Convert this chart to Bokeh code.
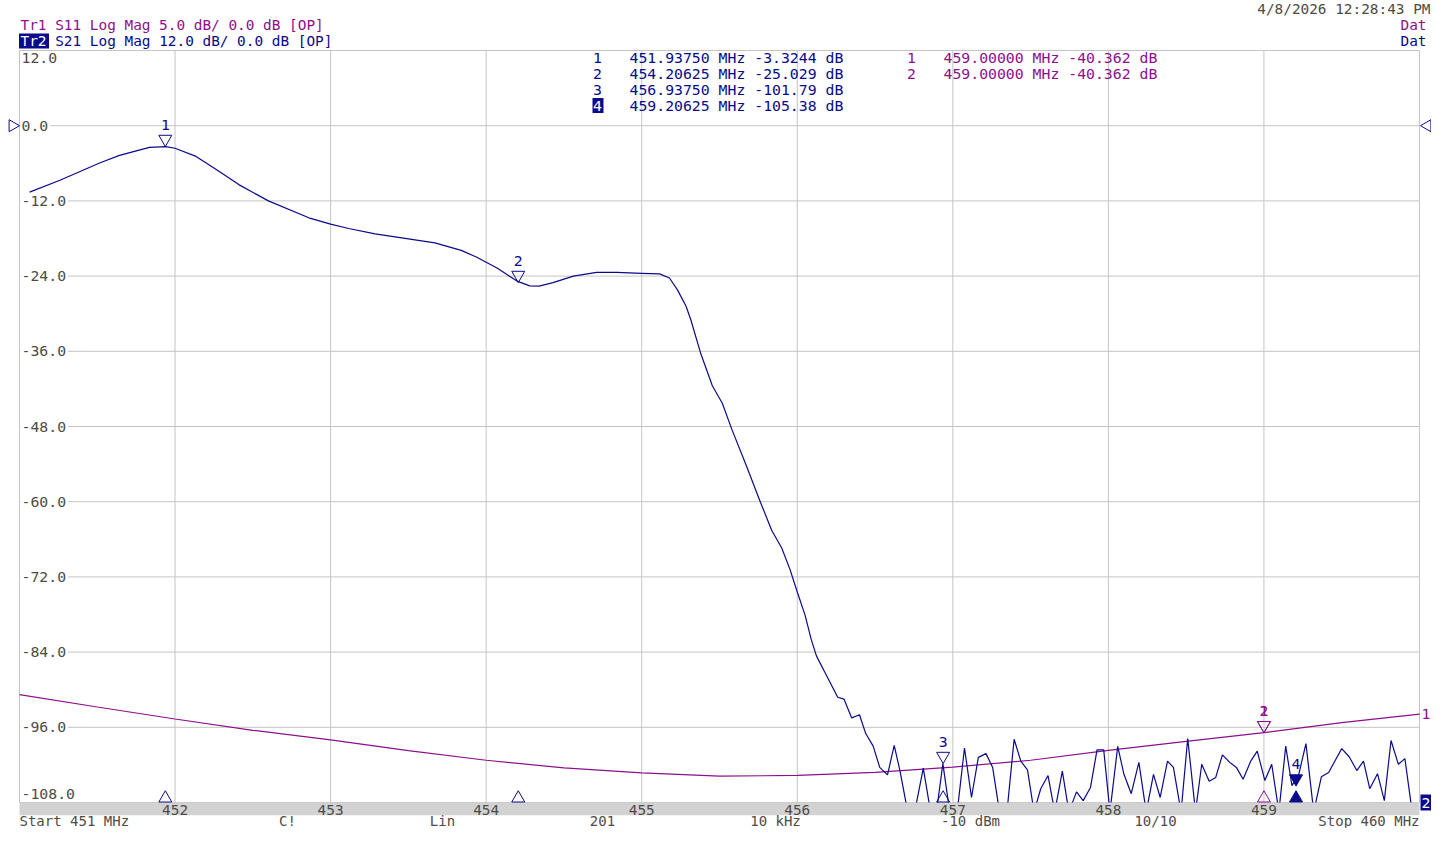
import numpy as np
from bokeh.plotting import figure
from bokeh.models import Range1d
from bokeh.core.properties import value
from bokeh.embed import file_html
from bokeh.resources import INLINE

# ---------------- data ----------------
start_mhz, stop_mhz = 451.0, 460.0

s21_freq = [451.065, 451.26, 451.515, 451.643, 451.835, 451.94, 452.0, 452.135, 452.26, 452.41,
            452.6, 452.86, 453.0, 453.116, 453.286, 453.5, 453.67, 453.84, 453.94, 454.0,
            454.07, 454.136, 454.198, 454.28, 454.34, 454.43, 454.56, 454.71, 454.84, 455.0,
            455.115, 455.178, 455.23, 455.285, 455.316, 455.38, 455.454, 455.518, 455.58, 455.667,
            455.762, 455.836, 455.9, 455.953, 456.0, 456.05, 456.09, 456.123, 456.187, 456.26,
            456.30, 456.35, 456.40, 456.44, 456.488, 456.53, 456.58, 456.623, 456.66, 456.71,
            456.755, 456.81, 456.857, 456.895, 456.936, 456.98, 457.028, 457.075, 457.12, 457.164,
            457.213, 457.256, 457.3, 457.348, 457.394, 457.437, 457.48, 457.522, 457.565, 457.612,
            457.655, 457.704, 457.746, 457.795, 457.838, 457.885, 457.927, 457.97, 458.01, 458.06,
            458.10, 458.147, 458.196, 458.243, 458.29, 458.333, 458.38, 458.418, 458.467, 458.51,
            458.56, 458.6, 458.648, 458.69, 458.733, 458.78, 458.823, 458.866, 458.915, 458.957,
            459.006, 459.05, 459.096, 459.14, 459.18, 459.224, 459.27, 459.32, 459.369, 459.416,
            459.458, 459.5, 459.548, 459.597, 459.64, 459.68, 459.73, 459.774, 459.817, 459.864,
            459.906, 459.953]
s21_db = [-10.6, -8.7, -5.95, -4.74, -3.47, -3.35, -3.6, -4.9, -6.9, -9.4,
          -12.0, -14.7, -15.7, -16.4, -17.25, -18.05, -18.7, -19.9, -21.0, -21.8,
          -22.7, -23.8, -24.8, -25.55, -25.6, -25.05, -24.0, -23.42, -23.42, -23.55,
          -23.65, -24.3, -26.2, -28.8, -31.0, -36.4, -41.5, -44.3, -48.5, -53.9,
          -60.0, -64.6, -67.4, -70.8, -74.4, -78.1, -82.0, -84.6, -87.7, -91.2,
          -91.5, -94.5, -94.0, -97.0, -99.0, -102.4, -103.6, -98.9, -102.9, -109.5,
          -109.5, -102.5, -109.5, -109.5, -101.8, -109.5, -109.5, -99.3, -107.2, -100.8,
          -100.2, -102.4, -109.5, -109.5, -97.9, -101.4, -102.8, -109.5, -105.8, -103.7,
          -109.5, -103.0, -109.5, -106.3, -107.7, -105.6, -99.6, -99.6, -109.5, -99.05,
          -103.5, -106.6, -101.6, -109.5, -103.5, -107.2, -101.4, -102.4, -109.5, -97.8,
          -109.5, -101.9, -104.6, -104.0, -100.4, -101.6, -102.4, -104.3, -101.4, -99.8,
          -104.5, -101.9, -109.5, -99.0, -105.3, -103.5, -98.6, -109.5, -103.9, -103.2,
          -101.3, -99.4, -100.7, -102.9, -101.4, -105.8, -103.4, -107.7, -98.1, -101.9,
          -101.0, -109.5]

s11_freq = [451.0, 451.5, 452.0, 452.5, 453.0, 453.5, 454.0, 454.5, 455.0, 455.5,
            456.0, 456.5, 457.0, 457.5, 458.0, 458.5, 459.0, 459.5, 460.0]
s11_db = [-37.83, -38.65, -39.45, -40.2, -40.84, -41.55, -42.19, -42.7, -43.03, -43.25,
          -43.2, -43.0, -42.65, -42.19, -41.53, -40.94, -40.36, -39.69, -39.13]

s21_marker_id = ["1", "2", "3", "4"]
s21_marker_freq = [451.93750, 454.20625, 456.93750, 459.20625]
s21_marker_db = [-3.3244, -25.029, -101.79, -105.38]
s21_marker_txt = ["-3.3244", "-25.029", "-101.79", "-105.38"]
s11_marker_id = ["1", "2"]
s11_marker_freq = [459.00000, 459.00000]
s11_marker_db = [-40.362, -40.362]
s11_marker_txt = ["-40.362", "-40.362"]

x_ticks = [452, 453, 454, 455, 456, 457, 458, 459]
x_tick_labels = ["452", "453", "454", "455", "456", "457", "458", "459"]
y_ticks = [12.0, 0.0, -12.0, -24.0, -36.0, -48.0, -60.0, -72.0, -84.0, -96.0, -108.0]
y_tick_labels = ["12.0", "0.0", "-12.0", "-24.0", "-36.0", "-48.0", "-60.0", "-72.0",
                 "-84.0", "-96.0", "-108.0"]
s11_top, s11_bottom = 5.0, -45.0

header_tr1 = "Tr1 S11 Log Mag 5.0 dB/ 0.0 dB [OP]"
header_tr2_name = "Tr2"
header_tr2 = "S21 Log Mag 12.0 dB/ 0.0 dB [OP]"
date_text = "4/8/2026 12:28:43 PM"
bottom_labels = ["Start 451 MHz", "C!", "Lin", "201", "10 kHz", "-10 dBm", "10/10", "Stop 460 MHz"]

# ---------------- layout (picture pixels) ----------------
W, H = 1431, 828
FL, FR, FT, FB, BAND_B = 19, 1419, 50, 802, 815
Y_TOP, Y_BOT = y_ticks[0], y_ticks[-1]

ppx = (FR - FL) / (stop_mhz - start_mhz)
ppy = (FB - FT) / (Y_TOP - Y_BOT)
ppy11 = (FB - FT) / (s11_top - s11_bottom)

def X(px):
    return start_mhz + (px - FL) / ppx

def Y(py):
    return Y_TOP - (py - FT) / ppy

BLUE = "#0a0a8a"
PURPLE = "#8c0f8c"
GRID = "#c4c4c4"
TXT = "#4e4b47"
BAND = "#d2d2d2"
FONT = value("DejaVu Sans Mono")
FS = value("14.8px")
FS_H = value("14.4px")
FS_B = value("14px")
CW = 0.602 * 14.8

p = figure(width=W, height=H,
           x_range=Range1d(X(0), X(W)),
           y_range=Range1d(Y(H), Y(0)),
           x_axis_type=None, y_axis_type=None, title=None,
           toolbar_location=None, output_backend="svg",
           min_border=0, min_border_left=0, min_border_right=0,
           min_border_top=0, min_border_bottom=0,
           outline_line_color=None, background_fill_color="white",
           border_fill_color="white")
p.extra_y_ranges = {"s11": Range1d(s11_bottom - (H - FB) / ppy11,
                                   s11_top + FT / ppy11)}

# grid
vx = [start_mhz] + x_ticks + [stop_mhz]
p.segment(x0=vx, y0=[Y_BOT] * len(vx), x1=vx, y1=[Y_TOP] * len(vx),
          line_color=GRID, line_width=1)
p.segment(x0=[start_mhz] * len(y_ticks), y0=y_ticks, x1=[stop_mhz] * len(y_ticks), y1=y_ticks,
          line_color=GRID, line_width=1)

# tick label white backgrounds (middle labels sit on grid lines)
mid_labels = y_tick_labels[1:-1]
mid_w = [len(s) * CW + 3 for s in mid_labels]
p.rect(x=[X(21 + w / 2 - 1) for w in mid_w], y=y_ticks[1:-1], width=mid_w,
       height=[14] * len(mid_w), width_units="screen", height_units="screen",
       fill_color="white", line_color=None)

# traces
p.line(s11_freq, s11_db, y_range_name="s11", line_color=PURPLE, line_width=1.2)
p.line(s21_freq, s21_db, line_color=BLUE, line_width=1.2)

# bottom band (covers off-scale portion) and white area below
p.quad(left=[start_mhz], right=[stop_mhz], top=[Y_BOT], bottom=[Y(BAND_B)],
       fill_color=BAND, fill_alpha=1.0, line_color=None)
p.quad(left=[X(0)], right=[X(W)], top=[Y(BAND_B)], bottom=[Y(H)],
       fill_color="white", fill_alpha=1.0, line_color=None)

# y tick labels
yoff = [7] + [0] * (len(y_ticks) - 2) + [-9]
p.text(x=[X(21)] * len(y_ticks), y=y_ticks, text=y_tick_labels, y_offset=yoff,
       text_font=FONT, text_font_size=FS, text_color=TXT,
       text_align="left", text_baseline="middle")

# x tick labels in band
p.text(x=x_ticks, y=[Y((FB + BAND_B) / 2 + 0.5)] * len(x_ticks), text=x_tick_labels,
       text_font=FONT, text_font_size=FS_H, text_color=TXT,
       text_align="center", text_baseline="middle")

# bottom status row
bx = [X(19), X(287), X(442), X(602), X(775), X(970), X(1155), X(FR)]
balign = ["left", "center", "center", "center", "center", "center", "center", "right"]
p.text(x=bx, y=[Y(820)] * len(bx), text=bottom_labels, text_align=balign,
       text_font=FONT, text_font_size=FS_B, text_color=TXT, text_baseline="middle")

# markers on traces
SZ = 13
tip = SZ / 2 * np.sqrt(3) * 2 / 3
base = SZ / 2 * np.sqrt(3) / 3
p.scatter(x=s21_marker_freq[:3], y=[v + tip / ppy for v in s21_marker_db[:3]],
          marker="inverted_triangle", size=SZ, fill_color=None, line_color=BLUE, line_width=1)
p.scatter(x=s21_marker_freq[3:], y=[v + tip / ppy for v in s21_marker_db[3:]],
          marker="inverted_triangle", size=SZ, fill_color=BLUE, line_color=BLUE, line_width=1)
p.text(x=s21_marker_freq, y=s21_marker_db, text=s21_marker_id, y_offset=-17,
       text_font=FONT, text_font_size=FS, text_color=BLUE,
       text_align="center", text_baseline="bottom")
p.scatter(x=s11_marker_freq, y=[v + tip / ppy11 for v in s11_marker_db], y_range_name="s11",
          marker="inverted_triangle", size=SZ, fill_color=None, line_color=PURPLE, line_width=1)
p.text(x=s11_marker_freq, y=s11_marker_db, text=s11_marker_id, y_offset=-17, y_range_name="s11",
       text_font=FONT, text_font_size=FS, text_color=PURPLE,
       text_align="center", text_baseline="bottom")

# stimulus triangles at the bottom
p.scatter(x=s21_marker_freq[:3], y=[Y_BOT + (base + 0.5) / ppy] * 3, marker="triangle",
          size=SZ, fill_color=None, line_color=BLUE, line_width=1)
p.scatter(x=s21_marker_freq[3:], y=[Y_BOT + (base + 0.5) / ppy], marker="triangle",
          size=SZ, fill_color=BLUE, line_color=BLUE, line_width=1)
p.scatter(x=s11_marker_freq[:1], y=[Y_BOT + (base + 0.5) / ppy], marker="triangle",
          size=SZ, fill_color=None, line_color=PURPLE, line_width=1)

# reference level pointers
RS = 12
rtip = RS / 2 * np.sqrt(3) * 2 / 3
p.scatter(x=[X(FL) - rtip / ppx], y=[0.0], marker="triangle", angle=-np.pi / 2,
          size=RS, fill_color=None, line_color=BLUE, line_width=1)
p.scatter(x=[X(FR + 1) + rtip / ppx], y=[0.0], marker="triangle", angle=np.pi / 2,
          size=RS, fill_color=None, line_color=BLUE, line_width=1)

# trace end labels on the right
p.text(x=[X(FR + 6.5)], y=[s11_db[-1]], y_range_name="s11", text=["1"],
       text_font=FONT, text_font_size=FS, text_color=PURPLE,
       text_align="center", text_baseline="middle")
p.rect(x=[X(FR + 6.5)], y=[Y_BOT], width=[11], height=[16], width_units="screen",
       height_units="screen", fill_color=BLUE, line_color=None)
p.text(x=[X(FR + 6.5)], y=[Y_BOT], text=["2"], text_font=FONT, text_font_size=FS,
       text_color="white", text_align="center", text_baseline="middle")

# marker readouts
rows = [Y(57 + 16 * i) for i in range(len(s21_marker_id))]
p.rect(x=[X(597.5)], y=[rows[3]], width=[11], height=[15], width_units="screen",
       height_units="screen", fill_color=BLUE, line_color=None)
p.text(x=[X(597)] * 4, y=rows, text=s21_marker_id,
       text_color=[BLUE, BLUE, BLUE, "white"],
       text_font=FONT, text_font_size=FS, text_align="center", text_baseline="middle")
p.text(x=[X(629)] * 4, y=rows,
       text=["%.5f MHz %s dB" % (f, t) for f, t in zip(s21_marker_freq, s21_marker_txt)],
       text_font=FONT, text_font_size=FS, text_color=BLUE,
       text_align="left", text_baseline="middle")
p.text(x=[X(911)] * 2, y=rows[:2], text=s11_marker_id,
       text_font=FONT, text_font_size=FS, text_color=PURPLE,
       text_align="center", text_baseline="middle")
p.text(x=[X(943)] * 2, y=rows[:2],
       text=["%.5f MHz %s dB" % (f, t) for f, t in zip(s11_marker_freq, s11_marker_txt)],
       text_font=FONT, text_font_size=FS, text_color=PURPLE,
       text_align="left", text_baseline="middle")

# header
p.text(x=[X(20)], y=[Y(24)], text=[header_tr1], text_font=FONT, text_font_size=FS_H,
       text_color=PURPLE, text_align="left", text_baseline="middle")
p.rect(x=[X(33.5)], y=[Y(40.5)], width=[30], height=[15], width_units="screen",
       height_units="screen", fill_color=BLUE, line_color=None)
p.text(x=[X(20)], y=[Y(40.5)], text=[header_tr2_name], text_font=FONT, text_font_size=FS_H,
       text_color="white", text_align="left", text_baseline="middle")
p.text(x=[X(20 + 4 * 0.602 * 14.4)], y=[Y(40.5)], text=[header_tr2], text_font=FONT,
       text_font_size=FS_H, text_color=BLUE, text_align="left", text_baseline="middle")
p.text(x=[X(1430)], y=[Y(8)], text=[date_text], text_font=FONT, text_font_size=FS_H,
       text_color=TXT, text_align="right", text_baseline="middle")
p.text(x=[X(1426), X(1426)], y=[Y(24), Y(40.5)], text=["Dat", "Dat"],
       text_color=[PURPLE, BLUE], text_font=FONT, text_font_size=FS_H,
       text_align="right", text_baseline="middle")

open("out.html", "w").write(file_html(p, INLINE))
